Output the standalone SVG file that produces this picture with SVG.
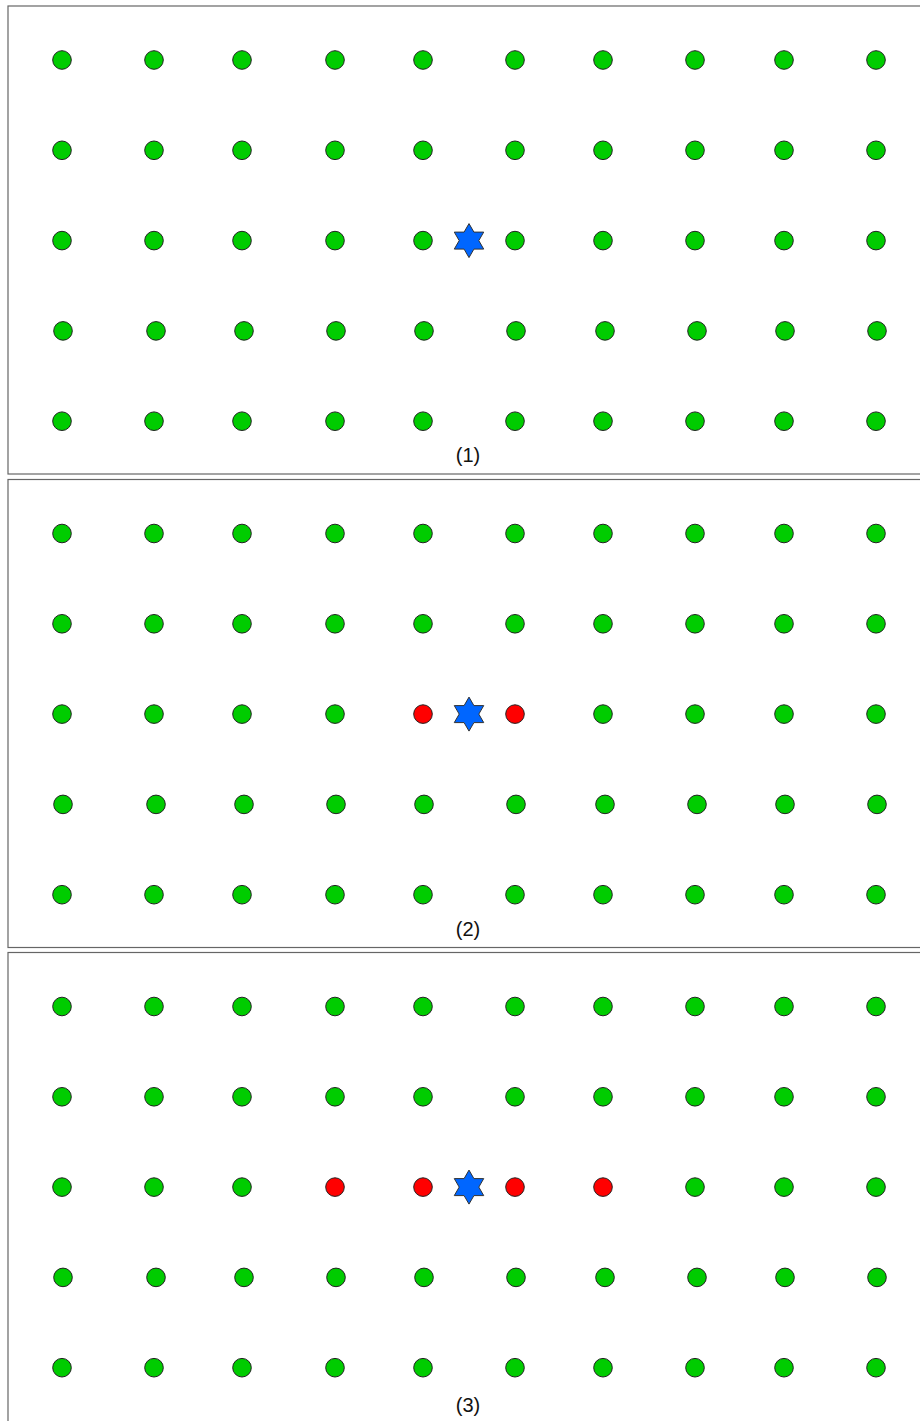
<svg xmlns="http://www.w3.org/2000/svg" xmlns:xlink="http://www.w3.org/1999/xlink" width="920" height="1421" viewBox="0 0 920 1421">
<style>
.panel{fill:#fff;stroke:#666;stroke-width:1.2}
.g{fill:#00cc00;stroke:#222;stroke-width:1}
.r{fill:#ff0000;stroke:#222;stroke-width:1}
.star{fill:#0066ff;stroke:#333;stroke-width:1}
.lbl{font-family:"Liberation Sans",Arial,sans-serif;font-size:20px;fill:#111;text-anchor:middle}
</style>
<defs>
<polygon id="hex" class="star" points="0,-17 4.91,-8.5 14.72,-8.5 9.81,0 14.72,8.5 4.91,8.5 0,17 -4.91,8.5 -14.72,8.5 -9.81,0 -14.72,-8.5 -4.91,-8.5"/>
<g id="grid">
<g class="row1"><circle class="g" cx="62" cy="60" r="9.3"/><circle class="g" cx="154" cy="60" r="9.3"/><circle class="g" cx="242" cy="60" r="9.3"/><circle class="g" cx="335" cy="60" r="9.3"/><circle class="g" cx="423" cy="60" r="9.3"/><circle class="g" cx="515" cy="60" r="9.3"/><circle class="g" cx="603" cy="60" r="9.3"/><circle class="g" cx="695" cy="60" r="9.3"/><circle class="g" cx="784" cy="60" r="9.3"/><circle class="g" cx="876" cy="60" r="9.3"/></g>
<g class="row2"><circle class="g" cx="62" cy="150.3" r="9.3"/><circle class="g" cx="154" cy="150.3" r="9.3"/><circle class="g" cx="242" cy="150.3" r="9.3"/><circle class="g" cx="335" cy="150.3" r="9.3"/><circle class="g" cx="423" cy="150.3" r="9.3"/><circle class="g" cx="515" cy="150.3" r="9.3"/><circle class="g" cx="603" cy="150.3" r="9.3"/><circle class="g" cx="695" cy="150.3" r="9.3"/><circle class="g" cx="784" cy="150.3" r="9.3"/><circle class="g" cx="876" cy="150.3" r="9.3"/></g>
<g class="row3"><circle class="g" cx="62" cy="240.6" r="9.3"/><circle class="g" cx="154" cy="240.6" r="9.3"/><circle class="g" cx="242" cy="240.6" r="9.3"/><circle class="g" cx="695" cy="240.6" r="9.3"/><circle class="g" cx="784" cy="240.6" r="9.3"/><circle class="g" cx="876" cy="240.6" r="9.3"/></g>
<g class="row4"><circle class="g" cx="63" cy="330.9" r="9.3"/><circle class="g" cx="156" cy="330.9" r="9.3"/><circle class="g" cx="244" cy="330.9" r="9.3"/><circle class="g" cx="336" cy="330.9" r="9.3"/><circle class="g" cx="424" cy="330.9" r="9.3"/><circle class="g" cx="516" cy="330.9" r="9.3"/><circle class="g" cx="605" cy="330.9" r="9.3"/><circle class="g" cx="697" cy="330.9" r="9.3"/><circle class="g" cx="785" cy="330.9" r="9.3"/><circle class="g" cx="877" cy="330.9" r="9.3"/></g>
<g class="row5"><circle class="g" cx="62" cy="421.2" r="9.3"/><circle class="g" cx="154" cy="421.2" r="9.3"/><circle class="g" cx="242" cy="421.2" r="9.3"/><circle class="g" cx="335" cy="421.2" r="9.3"/><circle class="g" cx="423" cy="421.2" r="9.3"/><circle class="g" cx="515" cy="421.2" r="9.3"/><circle class="g" cx="603" cy="421.2" r="9.3"/><circle class="g" cx="695" cy="421.2" r="9.3"/><circle class="g" cx="784" cy="421.2" r="9.3"/><circle class="g" cx="876" cy="421.2" r="9.3"/></g>
</g>
</defs>

<g id="panel1">
<rect class="panel" x="8" y="6" width="1000" height="468"/>
<use xlink:href="#grid" href="#grid"/>
<circle class="g" cx="335" cy="240.6" r="9.3"/><circle class="g" cx="423" cy="240.6" r="9.3"/><circle class="g" cx="515" cy="240.6" r="9.3"/><circle class="g" cx="603" cy="240.6" r="9.3"/>
<use href="#hex" xlink:href="#hex" x="469" y="240.6"/>
<text class="lbl" x="468" y="462">(1)</text>
</g>

<g id="panel2" transform="translate(0,473.5)">
<rect class="panel" x="8" y="6" width="1000" height="468"/>
<use xlink:href="#grid" href="#grid"/>
<circle class="g" cx="335" cy="240.6" r="9.3"/><circle class="r" cx="423" cy="240.6" r="9.3"/><circle class="r" cx="515" cy="240.6" r="9.3"/><circle class="g" cx="603" cy="240.6" r="9.3"/>
<use href="#hex" xlink:href="#hex" x="469" y="240.6"/>
<text class="lbl" x="468" y="462.5">(2)</text>
</g>

<g id="panel3" transform="translate(0,946.5)">
<rect class="panel" x="8" y="6" width="1000" height="480"/>
<use xlink:href="#grid" href="#grid"/>
<circle class="r" cx="335" cy="240.6" r="9.3"/><circle class="r" cx="423" cy="240.6" r="9.3"/><circle class="r" cx="515" cy="240.6" r="9.3"/><circle class="r" cx="603" cy="240.6" r="9.3"/>
<use href="#hex" xlink:href="#hex" x="469" y="240.6"/>
<text class="lbl" x="468" y="465">(3)</text>
</g>
<g id="connectors"/>
</svg>
